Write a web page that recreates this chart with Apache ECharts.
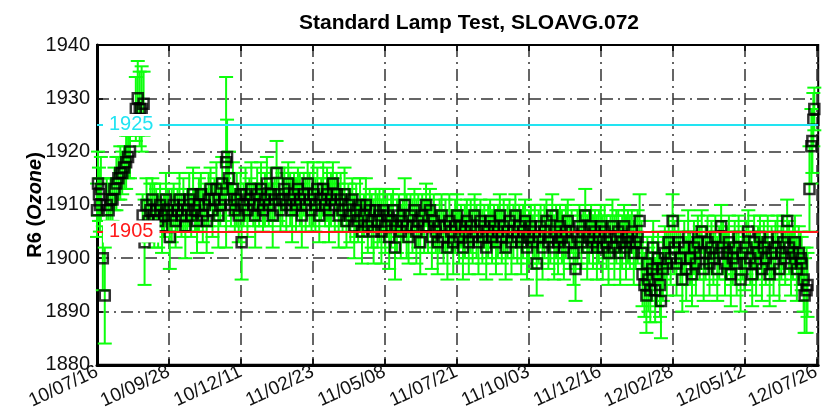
<!DOCTYPE html>
<html>
<head>
<meta charset="utf-8">
<script src="https://cdn.jsdelivr.net/npm/echarts@6/dist/echarts.min.js"></script>
<style>
  html, body { margin: 0; padding: 0; background: #fff; }
  #main { width: 823px; height: 412px; }
</style>
</head>
<body>
<div id="main"></div>
<script>
// x values: days since 2010-07-16
const dayOffsets = [
  0, 1, 2, 3, 4, 6, 8, 10, 12, 14,
  16, 18, 20, 22, 24, 26, 28, 30, 32, 34,
  40, 42, 44, 46, 48,
  47, 49, 51, 53, 55, 57, 59, 61, 63, 65,
  67, 69, 71, 73, 75, 77, 79, 81, 83, 85,
  87, 89, 91, 93, 95, 97, 99, 101, 103, 105,
  107, 109, 111, 113, 115, 117, 119, 121, 123, 125,
  127, 129, 131, 133, 134, 136, 138, 140, 142, 144,
  146, 148, 149, 151, 153,
  155, 157, 159, 161, 163, 165, 167, 169, 171, 173,
  175, 177, 179, 181, 183, 185, 187, 189, 191, 193,
  195, 197, 199, 201, 203, 205, 207, 209, 211, 213,
  215, 217, 219, 221, 223, 225, 227, 229, 231, 233,
  235, 237, 239,
  241, 243, 245, 247, 249, 251, 253, 255, 257, 259,
  261, 263, 265, 267, 269, 271, 273, 275, 277, 279,
  281, 283, 285, 287, 289,
  291, 293, 295, 297, 299, 301, 303, 305, 307, 309,
  311, 313, 315, 317, 319, 321, 323, 325, 327, 329,
  331, 333, 335, 337, 339,
  341, 343, 345, 347, 349, 351, 353, 355, 357, 359,
  361, 363, 365, 367, 369, 371, 373, 375, 377, 379,
  381, 383, 385, 387, 389, 391, 393, 395, 397, 399,
  401, 403, 405, 407, 409, 411, 413, 415, 417, 419,
  421, 423, 425, 427, 429, 431,
  433, 435, 437, 439, 441, 443, 445, 447, 449, 451,
  453, 455, 457, 459, 461, 463, 465, 467, 469, 471,
  473, 475, 477, 479, 481, 483, 485, 487, 489, 491,
  493, 495, 497, 499, 501, 503, 505, 507, 509, 511,
  513, 515,
  517, 519, 521, 523, 525, 527, 529, 531, 533, 535,
  537, 539, 541, 543, 545, 547, 549, 551, 553, 555,
  557, 559, 561, 562, 564, 566, 567, 568, 570, 572,
  573, 575, 577, 578, 580, 581, 583, 585, 587, 589,
  591,
  593, 595, 597, 599, 601, 603, 605, 607, 609, 611,
  613, 615, 617, 619, 621, 623, 625, 627, 629, 631,
  633, 635, 637, 639, 641, 643, 645, 647, 649, 651,
  653, 655, 657, 659, 661, 663, 665, 667, 669, 671,
  673, 675, 677, 679, 681, 683, 685, 687, 689, 691,
  693, 695, 697, 699, 701, 703, 705, 707, 709, 711,
  713, 715, 717, 719, 721, 723, 725,
  726, 728, 729, 731, 732, 734, 736, 737, 738, 739
];
// R6 values
const r6Values = [
  1909, 1914, 1912, 1910, 1913, 1900, 1893, 1910, 1909, 1911,
  1911, 1913, 1914, 1915, 1916, 1916, 1917, 1918, 1919, 1920,
  1928, 1930, 1928, 1928, 1929,
  1908, 1903, 1910, 1907, 1909, 1911, 1908, 1909, 1907, 1910,
  1906, 1908, 1911, 1909, 1904, 1908, 1910, 1907, 1909, 1911,
  1908, 1910, 1906, 1909, 1911, 1908, 1912, 1909, 1907, 1910,
  1912, 1908, 1910, 1907, 1911, 1913, 1909, 1911, 1913, 1908,
  1910, 1914, 1911, 1918, 1919, 1915, 1910, 1913, 1909, 1911,
  1908, 1912, 1903, 1910, 1912,
  1909, 1911, 1913, 1910, 1908, 1912, 1910, 1913, 1909, 1911,
  1914, 1910, 1912, 1908, 1911, 1916, 1912, 1909, 1911, 1913,
  1910, 1914, 1911, 1909, 1912, 1910, 1913, 1911, 1908, 1912,
  1910, 1914, 1911, 1909, 1912, 1910, 1913, 1908, 1911, 1913,
  1910, 1912, 1909,
  1911, 1914, 1910, 1912, 1908, 1911, 1909, 1912, 1907, 1910,
  1908, 1911, 1906, 1909, 1907, 1910, 1905, 1908, 1910, 1906,
  1909, 1907, 1905, 1909, 1907,
  1908, 1905, 1909, 1906, 1908, 1904, 1907, 1909, 1902, 1906,
  1908, 1905, 1907, 1910, 1906, 1904, 1908, 1906, 1909, 1905,
  1907, 1903, 1908, 1906, 1910,
  1906, 1909, 1904, 1907, 1905, 1903, 1906, 1908, 1904, 1906,
  1902, 1907, 1905, 1903, 1906, 1908, 1904, 1906, 1902, 1905,
  1907, 1903, 1906, 1904, 1908, 1905, 1903, 1907, 1904, 1906,
  1902, 1905, 1907, 1904, 1906, 1903, 1905, 1908, 1904, 1906,
  1902, 1905, 1907, 1903, 1905, 1908,
  1904, 1906, 1903, 1905, 1907, 1902, 1904, 1906, 1903, 1905,
  1899, 1904, 1906, 1902, 1905, 1907, 1903, 1904, 1908, 1902,
  1905, 1903, 1906, 1904, 1902, 1905, 1907, 1903, 1905, 1901,
  1898, 1904, 1906, 1903, 1905, 1908, 1902, 1904, 1906, 1903,
  1905, 1902,
  1904, 1906, 1902, 1905, 1903, 1901, 1904, 1906, 1902, 1904,
  1905, 1901, 1903, 1906, 1902, 1904, 1903, 1905, 1901, 1903,
  1904, 1907, 1901, 1897, 1895, 1893, 1899, 1896, 1894, 1898,
  1902, 1894, 1897, 1900, 1895, 1892, 1898, 1901, 1899, 1903,
  1900,
  1907, 1902, 1899, 1903, 1900, 1896, 1902, 1898, 1904, 1900,
  1897, 1902, 1899, 1903, 1901, 1905, 1898, 1901, 1903, 1899,
  1902, 1900, 1904, 1898, 1901, 1906, 1902, 1899, 1901, 1903,
  1897, 1900, 1902, 1899, 1904, 1896, 1901, 1899, 1902, 1905,
  1900, 1897, 1903, 1899, 1901, 1904, 1898, 1902, 1900, 1903,
  1897, 1901, 1899, 1902, 1904, 1898, 1901, 1903, 1900, 1907,
  1902, 1899, 1901, 1903, 1898, 1901, 1900,
  1899, 1896, 1893, 1894, 1895, 1913, 1921, 1922, 1926, 1928
];
// half length of each error bar
const r6Errors = [
  5, 6, 5, 5, 6, 6, 9, 5, 5, 4,
  4, 4, 5, 4, 5, 4, 4, 5, 4, 5,
  6, 7, 7, 8, 6,
  4, 8, 5, 4, 5, 4, 6, 4, 5, 4,
  5, 4, 5, 4, 6, 5, 4, 5, 4, 5,
  4, 5, 6, 4, 5, 4, 5, 4, 6, 5,
  4, 5, 4, 6, 5, 4, 5, 4, 5, 6,
  4, 5, 4, 16, 7, 5, 4, 5, 4, 5,
  5, 4, 7, 4, 5,
  5, 4, 5, 4, 6, 5, 4, 5, 4, 5,
  5, 4, 5, 6, 4, 6, 5, 4, 5, 4,
  5, 4, 5, 6, 4, 5, 4, 5, 6, 4,
  5, 4, 5, 4, 6, 5, 4, 5, 4, 5,
  4, 5, 6,
  5, 4, 5, 4, 6, 5, 4, 5, 5, 4,
  5, 4, 6, 5, 4, 5, 6, 4, 5, 5,
  4, 5, 6, 4, 5,
  5, 6, 4, 5, 4, 6, 5, 4, 6, 5,
  4, 5, 4, 5, 6, 5, 4, 5, 4, 6,
  5, 6, 4, 5, 4,
  5, 4, 6, 5, 4, 6, 5, 4, 5, 5,
  6, 5, 4, 6, 5, 4, 5, 4, 6, 5,
  4, 6, 5, 5, 4, 5, 6, 4, 5, 4,
  6, 5, 4, 5, 4, 6, 5, 4, 5, 5,
  6, 5, 4, 6, 5, 4,
  5, 4, 6, 5, 4, 6, 5, 4, 5, 5,
  6, 5, 4, 6, 5, 4, 5, 5, 4, 6,
  5, 6, 4, 5, 6, 5, 4, 5, 4, 6,
  6, 5, 4, 5, 4, 5, 6, 5, 4, 5,
  4, 6,
  5, 4, 6, 5, 5, 6, 4, 5, 6, 5,
  4, 6, 5, 4, 6, 5, 5, 4, 6, 5,
  5, 5, 6, 6, 6, 7, 5, 6, 6, 6,
  5, 6, 6, 5, 6, 7, 6, 5, 6, 5,
  5,
  5, 5, 6, 5, 5, 6, 5, 6, 5, 5,
  6, 5, 6, 5, 5, 4, 6, 5, 5, 6,
  5, 5, 4, 6, 5, 4, 5, 6, 5, 5,
  6, 5, 5, 6, 4, 6, 5, 5, 5, 4,
  5, 6, 5, 6, 5, 4, 6, 5, 5, 5,
  6, 5, 6, 5, 4, 6, 5, 5, 5, 4,
  5, 6, 5, 5, 6, 5, 5,
  5, 6, 7, 8, 6, 8, 7, 6, 5, 4
];
const refLines = [1925, 1905];
const yTicks = [1880, 1890, 1900, 1910, 1920, 1930, 1940];
const xTickDays = 74.1;

const startUTC = Date.UTC(2010, 6, 16);
const pad = n => String(n).padStart(2, '0');
function dayLabel(d) {
  const t = new Date(startUTC + Math.floor(d + 1e-6) * 86400000);
  return pad(t.getUTCFullYear() % 100) + '/' + pad(t.getUTCMonth() + 1) + '/' + pad(t.getUTCDate());
}

const points = dayOffsets.map((d, i) => [d, r6Values[i], r6Errors[i]]);
const font = 'Liberation Sans, Arial, Helvetica, sans-serif';
const gridLine = { color: '#333', width: 1.5, type: [12, 5, 2, 5] };

const myChart = echarts.init(document.getElementById('main'));

myChart.setOption({
  animation: false,
  title: {
    text: 'Standard Lamp Test, SLOAVG.072',
    left: 464, top: 8, textAlign: 'center',
    textStyle: { fontFamily: font, fontSize: 21, fontWeight: 'bold', color: '#000' }
  },
  grid: { left: 97, right: 1, top: 45, bottom: 46, show: true, borderColor: '#000', borderWidth: 2 },
  xAxis: [{
    type: 'value', min: 0, max: 743, interval: xTickDays,
    axisLine: { show: true, lineStyle: { color: '#000', width: 3 } },
    axisTick: { show: true, inside: true, length: 6, lineStyle: { color: '#000', width: 1.5 } },
    axisLabel: {
      rotate: 25, fontFamily: font, fontSize: 19, color: '#111', margin: 6,
      showMaxLabel: false, formatter: v => dayLabel(v)
    },
    splitLine: { show: true, lineStyle: gridLine }
  }, {
    type: 'value', position: 'top', min: 0, max: 743, interval: xTickDays,
    axisLine: { show: true, lineStyle: { color: '#000', width: 2 } },
    axisTick: { show: true, inside: true, length: 6, lineStyle: { color: '#000', width: 1.5 } },
    axisLabel: { show: false }, splitLine: { show: false }
  }],
  yAxis: {
    type: 'value', min: yTicks[0], max: yTicks[yTicks.length - 1], interval: 10,
    name: '{a|R6 (}{b|Ozone}{a|)}',
    nameLocation: 'middle', nameGap: 52, nameRotate: 90, nameMoveOverlap: false,
    nameTextStyle: {
      rich: {
        a: { fontFamily: font, fontSize: 20, fontWeight: 'bold', color: '#000' },
        b: { fontFamily: font, fontSize: 20, fontWeight: 'bold', fontStyle: 'italic', color: '#000' }
      }
    },
    axisLine: { show: true, lineStyle: { color: '#000', width: 3 } },
    axisTick: { show: true, inside: true, length: 6, lineStyle: { color: '#000', width: 1.5 } },
    axisLabel: { fontFamily: font, fontSize: 20, color: '#111', margin: 7, formatter: v => String(v) },
    splitLine: { show: true, lineStyle: gridLine }
  },
  series: [
    {
      name: 'error',
      type: 'custom',
      data: points,
      z: 2,
      renderItem: (params, api) => {
        const x = api.value(0), v = api.value(1), e = api.value(2);
        const hi = api.coord([x, v + e]);
        const lo = api.coord([x, v - e]);
        const w = 7;
        const style = { stroke: '#0dff0d', lineWidth: 2 };
        return {
          type: 'group',
          children: [
            { type: 'line', shape: { x1: hi[0], y1: hi[1], x2: lo[0], y2: lo[1] }, style },
            { type: 'line', shape: { x1: hi[0] - w, y1: hi[1], x2: hi[0] + w, y2: hi[1] }, style },
            { type: 'line', shape: { x1: lo[0] - w, y1: lo[1], x2: lo[0] + w, y2: lo[1] }, style }
          ]
        };
      }
    },
    {
      name: 'R6',
      type: 'scatter',
      data: points.map(p => [p[0], p[1]]),
      symbol: 'rect',
      symbolSize: 10,
      z: 3,
      itemStyle: { color: 'rgba(0,0,0,0)', borderColor: '#000', borderWidth: 2.5 },
      markLine: {
        silent: true, symbol: 'none', z: 4,
        data: [
          { yAxis: refLines[0], lineStyle: { color: '#22e4f2', width: 2, type: 'solid' },
            label: { color: '#22e4f2' } },
          { yAxis: refLines[1], lineStyle: { color: '#ff1a1a', width: 2, type: 'solid' },
            label: { color: '#ff1a1a' } }
        ],
        label: {
          show: true, position: 'insideStartTop', formatter: '{c}',
          fontFamily: font, fontSize: 20, backgroundColor: '#fff',
          padding: [1, 6, 1, 6], distance: 0, offset: [6, 11]
        }
      }
    }
  ]
});
</script>
</body>
</html>
